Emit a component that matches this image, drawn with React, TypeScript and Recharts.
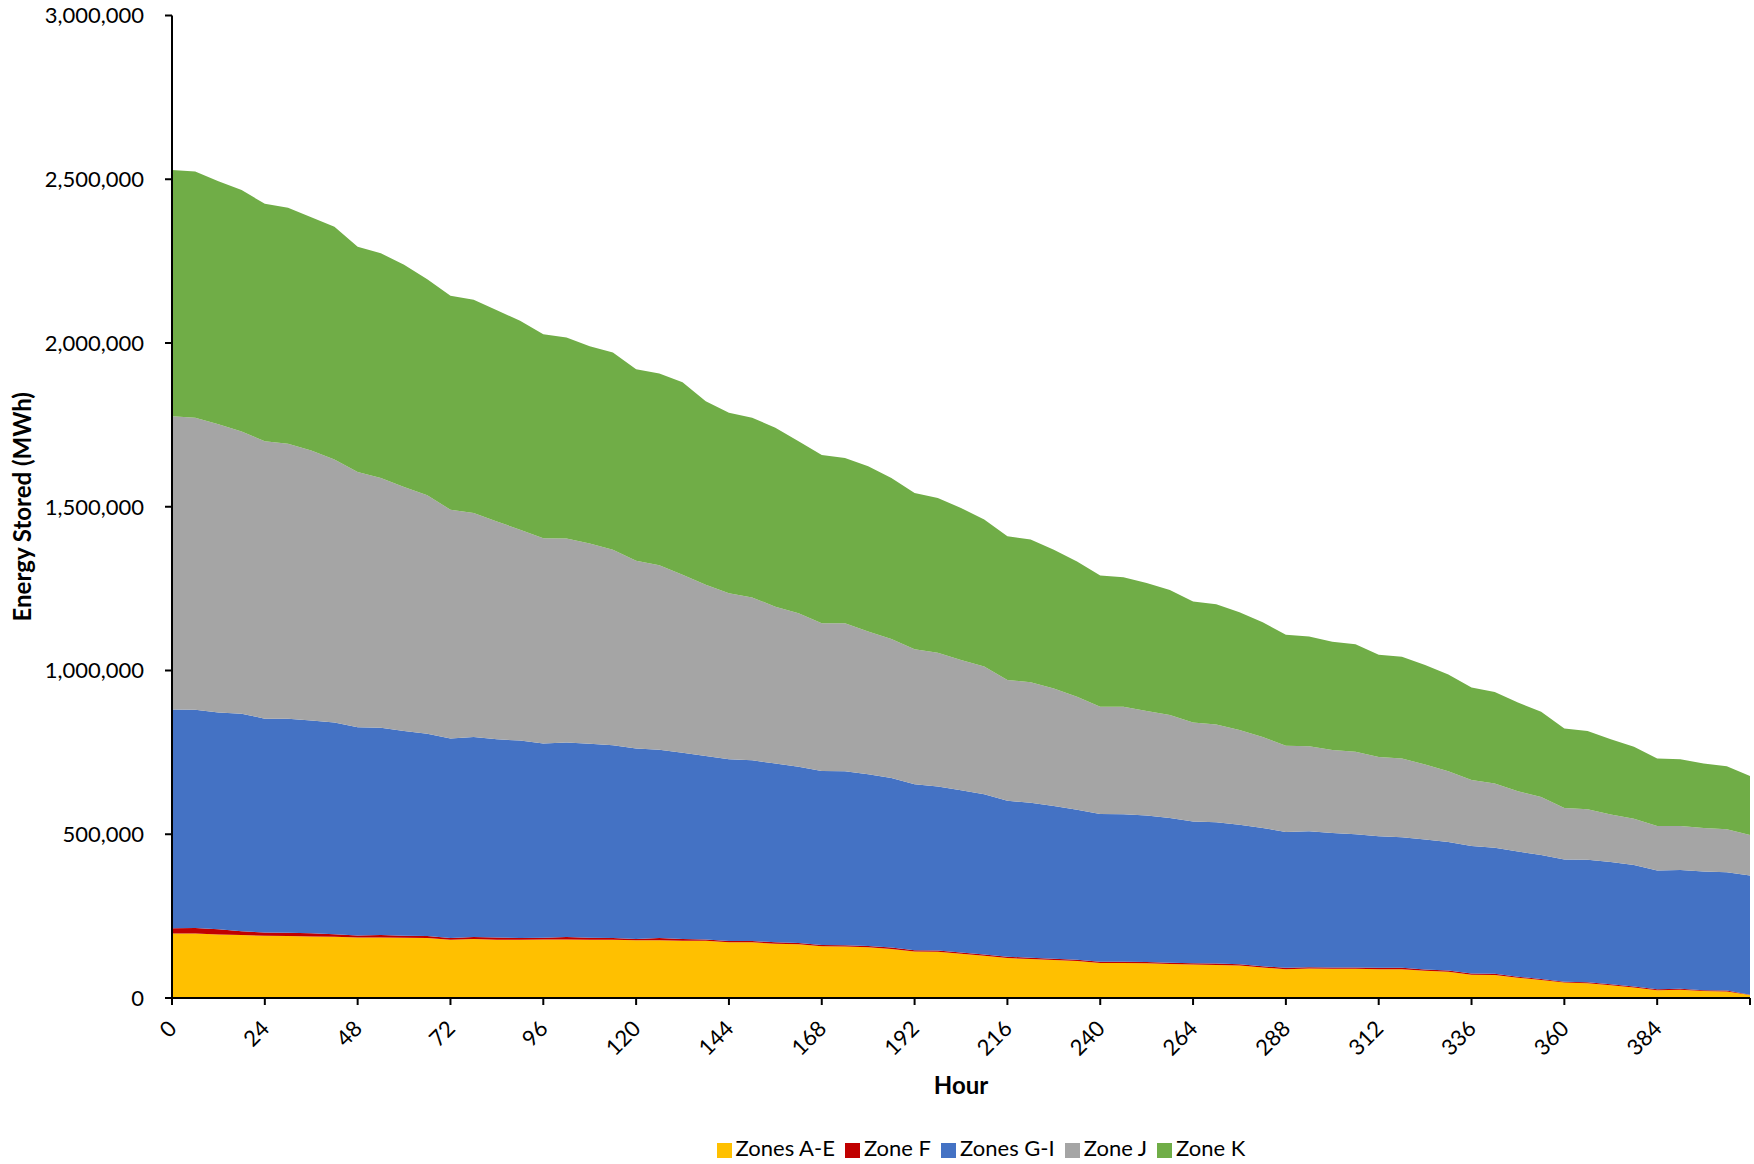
import React from 'react';
import { AreaChart, Area, XAxis, YAxis, Legend } from 'recharts';

const hours = [0, 6, 12, 18, 24, 30, 36, 42, 48, 54, 60, 66, 72, 78, 84, 90, 96, 102, 108, 114, 120, 126, 132, 138, 144, 150, 156, 162, 168, 174, 180, 186, 192, 198, 204, 210, 216, 222, 228, 234, 240, 246, 252, 258, 264, 270, 276, 282, 288, 294, 300, 306, 312, 318, 324, 330, 336, 342, 348, 354, 360, 366, 372, 378, 384, 390, 396, 402, 408];

const zonesAE = [197000, 197000, 194000, 192000, 190000, 189000, 188000, 187000, 185000, 185000, 184000, 183000, 178000, 180000, 178000, 178000, 179000, 179000, 178000, 178000, 176000, 176000, 175000, 175000, 170000, 170000, 166000, 164000, 158000, 157000, 155000, 150000, 142000, 141000, 135000, 129000, 122000, 119000, 116000, 113000, 107000, 107000, 106000, 104000, 102000, 101000, 99000, 93000, 88000, 90000, 89000, 89000, 88000, 88000, 83000, 80000, 71000, 70000, 62000, 55000, 47000, 45000, 39000, 32000, 24000, 25000, 21000, 20000, 9000];

const zoneF = [16000, 17000, 16000, 12000, 10000, 10000, 10000, 8000, 6000, 7000, 6000, 6000, 5000, 6000, 7000, 5000, 5000, 7000, 6000, 5000, 4000, 7000, 5000, 4000, 4000, 4000, 4000, 4000, 4000, 4000, 4000, 4000, 4000, 4000, 4000, 4000, 4000, 4000, 4000, 4000, 4000, 4000, 4000, 4000, 4000, 4000, 4000, 4000, 4000, 4000, 4000, 4000, 4000, 4000, 4000, 4000, 4000, 4000, 3000, 3000, 3000, 3000, 3000, 3000, 3000, 3000, 3000, 3000, 1000];

const zonesGI = [668000, 666000, 662000, 664000, 653000, 654000, 649000, 646000, 636000, 633000, 625000, 618000, 609000, 611000, 605000, 603000, 593000, 594000, 592000, 589000, 582000, 575000, 569000, 560000, 555000, 552000, 546000, 538000, 531000, 531000, 524000, 518000, 507000, 501000, 495000, 489000, 476000, 473000, 466000, 458000, 451000, 450000, 447000, 442000, 433000, 432000, 426000, 422000, 415000, 415000, 411000, 407000, 402000, 399000, 397000, 392000, 389000, 385000, 382000, 379000, 373000, 374000, 373000, 371000, 362000, 363000, 362000, 361000, 364000];

const zoneJ = [895000, 892000, 880000, 862000, 847000, 839000, 825000, 803000, 779000, 763000, 745000, 728000, 699000, 684000, 665000, 644000, 627000, 623000, 612000, 597000, 573000, 563000, 543000, 523000, 507000, 497000, 479000, 469000, 451000, 452000, 436000, 424000, 412000, 408000, 398000, 390000, 369000, 368000, 359000, 345000, 327000, 328000, 319000, 314000, 302000, 298000, 289000, 278000, 263000, 260000, 253000, 252000, 242000, 240000, 229000, 216000, 202000, 196000, 184000, 177000, 157000, 154000, 145000, 141000, 136000, 134000, 133000, 131000, 124000];

const zoneK = [752000, 752000, 742000, 737000, 725000, 721000, 712000, 711000, 688000, 686000, 679000, 660000, 653000, 651000, 645000, 638000, 623000, 614000, 602000, 602000, 585000, 586000, 588000, 560000, 551000, 549000, 546000, 525000, 514000, 505000, 505000, 492000, 477000, 473000, 464000, 449000, 439000, 436000, 424000, 413000, 401000, 396000, 391000, 382000, 370000, 367000, 360000, 350000, 339000, 335000, 331000, 328000, 312000, 311000, 304000, 296000, 282000, 279000, 271000, 260000, 243000, 239000, 230000, 220000, 206000, 204000, 197000, 193000, 180000];

const xTicks = [0, 24, 48, 72, 96, 120, 144, 168, 192, 216, 240, 264, 288, 312, 336, 360, 384, 408];
const xTickLabels = ['0', '24', '48', '72', '96', '120', '144', '168', '192', '216', '240', '264', '288', '312', '336', '360', '384', ''];
const yTicks = [0, 500000, 1000000, 1500000, 2000000, 2500000, 3000000];
const seriesOrder = ['Zones A-E', 'Zone F', 'Zones G-I', 'Zone J', 'Zone K'];

const data = hours.map((h, i) => ({
  hour: h,
  ae: zonesAE[i],
  f: zoneF[i],
  gi: zonesGI[i],
  j: zoneJ[i],
  k: zoneK[i],
}));

const FONT = 'Lato, "Open Sans", sans-serif';

const XTick = (props: any) => {
  const { x, y, payload } = props;
  const idx = xTicks.indexOf(payload.value);
  const label = idx >= 0 ? xTickLabels[idx] : String(payload.value);
  if (!label) return null;
  const ax = x + 6;
  const ay = y + 23;
  return (
    <text x={ax} y={ay} transform={`rotate(-45 ${ax} ${ay})`} textAnchor="end" fontFamily={FONT} fontSize={22} fill="#000">
      {label}
    </text>
  );
};

const fmt = (v: number) => v.toLocaleString('en-US');

const YTitle = (props: any) => {
  const vb = props.viewBox || {};
  const cx = 31;
  const cy = vb.y + vb.height / 2;
  return (
    <text x={cx} y={cy} transform={`rotate(-90 ${cx} ${cy})`} textAnchor="middle" fontFamily={FONT} fontWeight="bold" fontSize={24} fill="#000">
      Energy Stored (MWh)
    </text>
  );
};

const XTitle = (props: any) => {
  const vb = props.viewBox || {};
  return (
    <text x={vb.x + vb.width / 2} y={vb.y + 95.5} textAnchor="middle" fontFamily={FONT} fontWeight="bold" fontSize={24} fill="#000">
      Hour
    </text>
  );
};

const legendFormatter = (value: string) => <span style={{ color: '#000' }}>{value}</span>;

export default function App() {
  return (
    <div style={{ position: 'absolute', left: 0, top: 0, width: 1754, height: 1164, background: '#fff' }}>
      <AreaChart width={1754} height={1164} data={data} margin={{ top: 15.5, right: 4, left: 0, bottom: 2 }}>
        <XAxis
          dataKey="hour"
          type="number"
          domain={[0, 408]}
          ticks={xTicks}
          interval={0}
          tick={<XTick />}
          tickSize={7}
          axisLine={{ stroke: '#000', strokeWidth: 2 }}
          tickLine={{ stroke: '#000', strokeWidth: 2 }}
          height={136}
          label={<XTitle />}
        />
        <YAxis
          type="number"
          domain={[0, 3000000]}
          ticks={yTicks}
          interval={0}
          width={172}
          tickSize={7}
          tickMargin={21}
          tickFormatter={fmt}
          tick={{ fontFamily: FONT, fontSize: 22, fill: '#000' }}
          axisLine={{ stroke: '#000', strokeWidth: 2 }}
          tickLine={{ stroke: '#000', strokeWidth: 2 }}
          label={<YTitle />}
        />
        <Area type="linear" dataKey="ae" name="Zones A-E" stackId="1" stroke="none" fill="#FFC000" fillOpacity={1} isAnimationActive={false} />
        <Area type="linear" dataKey="f" name="Zone F" stackId="1" stroke="none" fill="#C00000" fillOpacity={1} isAnimationActive={false} />
        <Area type="linear" dataKey="gi" name="Zones G-I" stackId="1" stroke="none" fill="#4472C4" fillOpacity={1} isAnimationActive={false} />
        <Area type="linear" dataKey="j" name="Zone J" stackId="1" stroke="none" fill="#A5A5A5" fillOpacity={1} isAnimationActive={false} />
        <Area type="linear" dataKey="k" name="Zone K" stackId="1" stroke="none" fill="#70AD47" fillOpacity={1} isAnimationActive={false} />
        <Legend
          verticalAlign="bottom"
          align="center"
          iconType="square"
          iconSize={15}
          itemSorter={(item: any) => seriesOrder.indexOf(item.value)}
          formatter={legendFormatter}
          wrapperStyle={{ left: 209, width: 1554, fontFamily: FONT, fontSize: 22, lineHeight: '28px' }}
        />
      </AreaChart>
    </div>
  );
}
